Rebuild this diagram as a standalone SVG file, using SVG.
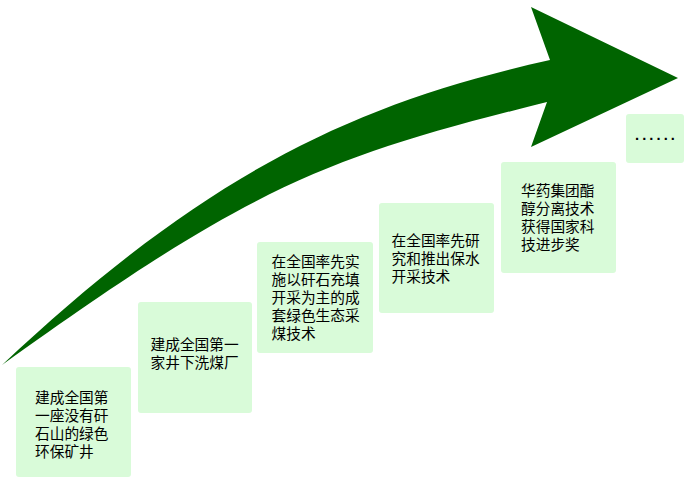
<svg xmlns="http://www.w3.org/2000/svg" width="693" height="496" viewBox="0 0 693 496">
<style>
.box{fill:#d9fbd9;}
.t{font-family:"Liberation Sans","Noto Sans CJK SC",sans-serif;font-size:14.7px;fill:#000;}
.arrow{fill:#006400;}
</style>
<rect width="693" height="496" fill="#ffffff"/>
<g id="connectors">
<path class="arrow" d="M2,365 C202,177 350,104 550,60 L531,7 L678,78 L531,147 L547,102 C327,157 252,185 2,365 Z"/>
</g>
<g id="node1">
<rect class="box" x="16" y="367" width="115" height="110" rx="3"/>
<text class="t" x="35" y="403">建成全国第<tspan x="35" dy="18">一座没有矸</tspan><tspan x="35" dy="18">石山的绿色</tspan><tspan x="35" dy="18">环保矿井</tspan></text>
</g>
<g id="node2">
<rect class="box" x="138" y="302" width="114" height="111" rx="3"/>
<text class="t" x="150.5" y="350">建成全国第一<tspan x="150.5" dy="18">家井下洗煤厂</tspan></text>
</g>
<g id="node3">
<rect class="box" x="257" y="242" width="116" height="111" rx="3"/>
<text class="t" x="271.5" y="267">在全国率先实<tspan x="271.5" dy="18">施以矸石充填</tspan><tspan x="271.5" dy="18">开采为主的成</tspan><tspan x="271.5" dy="18">套绿色生态采</tspan><tspan x="271.5" dy="18">煤技术</tspan></text>
</g>
<g id="node4">
<rect class="box" x="379" y="203" width="115" height="110" rx="3"/>
<text class="t" x="391.5" y="246">在全国率先研<tspan x="391.5" dy="18">究和推出保水</tspan><tspan x="391.5" dy="18">开采技术</tspan></text>
</g>
<g id="node5">
<rect class="box" x="501" y="162" width="115" height="111" rx="3"/>
<text class="t" x="521" y="196">华药集团酯<tspan x="521" dy="18">醇分离技术</tspan><tspan x="521" dy="18">获得国家科</tspan><tspan x="521" dy="18">技进步奖</tspan></text>
</g>
<g id="node6">
<rect class="box" x="626" y="114" width="58" height="49" rx="3"/>
<text class="t" x="656.5" y="139.5" text-anchor="middle" style="font-weight:bold;letter-spacing:3.1px">......</text>
</g>
</svg>
